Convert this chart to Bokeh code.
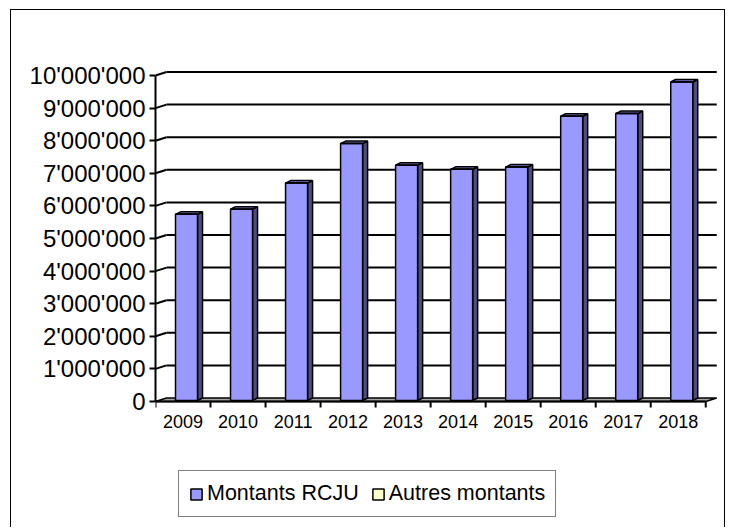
from bokeh.plotting import figure
from bokeh.models import Range1d, FixedTicker, Legend, LegendItem
from bokeh.core.properties import value
from bokeh.embed import file_html
from bokeh.resources import INLINE

# ---- data ----
years = ["2009", "2010", "2011", "2012", "2013", "2014", "2015", "2016", "2017", "2018"]
montants_rcju = [5710000, 5870000, 6670000, 7880000, 7220000, 7090000, 7160000, 8720000, 8800000, 9770000]
autres_montants = [0, 0, 0, 0, 0, 0, 0, 0, 0, 0]
y_ticks = [0, 1000000, 2000000, 3000000, 4000000, 5000000, 6000000, 7000000, 8000000, 9000000, 10000000]
y_tick_labels = ["0", "1'000'000", "2'000'000", "3'000'000", "4'000'000", "5'000'000",
                 "6'000'000", "7'000'000", "8'000'000", "9'000'000", "10'000'000"]

# ---- styling constants (pixel geometry of the pseudo-3D look) ----
PX_PER_CAT = 55.0
PX_PER_UNIT_Y = 32.6 / 1e6
def dx(px):
    return px / PX_PER_CAT
def dy(px):
    return px / PX_PER_UNIT_Y

WALL_DX, WALL_DY = dx(11), dy(3.5)
BAR_SHIFT, BAR_BASE = dx(3.5), dy(1.0)
BAR_HALF = dx(11)
SIDE_DX, SIDE_DY = dx(5), dy(2.5)

FRONT = "#9999FF"
SIDE = "#4D4D80"
TOP = "#7A7ACC"

n = len(years)
H = 518
TOP_PX = 55
ZERO_PX = 391
y_start = -dy(H - ZERO_PX)
y_end = dy(ZERO_PX - TOP_PX)

p = figure(width=715, height=H, output_backend="svg", toolbar_location=None,
           x_range=Range1d(0, 10.25), y_range=Range1d(y_start, y_end),
           min_border_left=144, min_border_right=7, min_border_top=TOP_PX, min_border_bottom=0)
p.styles = {"border-left": "1px solid black", "border-top": "1px solid black",
            "border-right": "1px solid black", "margin-left": "10px", "margin-top": "9px"}
p.outline_line_color = None
p.xgrid.visible = False
p.ygrid.visible = False
p.xaxis.visible = False
p.background_fill_color = "white"
p.border_fill_color = "white"

# back-wall gridlines with diagonal connectors
gv = y_ticks[1:]
p.segment(x0=[0] * len(gv), y0=gv, x1=[WALL_DX] * len(gv), y1=[v + WALL_DY for v in gv],
          line_color="black", line_width=2)
p.segment(x0=[WALL_DX] * len(gv), y0=[v + WALL_DY for v in gv],
          x1=[n + WALL_DX] * len(gv), y1=[v + WALL_DY for v in gv],
          line_color="black", line_width=2)

# floor
p.patch(x=[0, n, n + WALL_DX, WALL_DX], y=[0, 0, WALL_DY, WALL_DY],
        fill_color="#A6A6A6", line_color="black", line_width=1.5)

# category axis (front edge): line, tick marks between categories, year labels
p.segment(x0=[0], y0=[0], x1=[n], y1=[0], line_color="black", line_width=2)
bounds = list(range(n + 1))
p.segment(x0=bounds, y0=[0] * len(bounds), x1=bounds, y1=[-dy(6)] * len(bounds),
          line_color="black", line_width=2)
centers = [i + 0.5 for i in range(n)]
p.text(x=centers, y=[-dy(19.5)] * n, text=years, text_align="center", text_baseline="middle",
       text_font=value("Liberation Sans"), text_font_size="18px", text_color="black")

# bars
lefts = [i + 0.5 + BAR_SHIFT - BAR_HALF for i in range(n)]
rights = [i + 0.5 + BAR_SHIFT + BAR_HALF for i in range(n)]
tops = [v + BAR_BASE for v in montants_rcju]
side_xs = [[r, r + SIDE_DX, r + SIDE_DX, r] for r in rights]
side_ys = [[BAR_BASE, BAR_BASE + SIDE_DY, t + SIDE_DY, t] for t in tops]
top_xs = [[l, r, r + SIDE_DX, l + SIDE_DX] for l, r in zip(lefts, rights)]
top_ys = [[t, t, t + SIDE_DY, t + SIDE_DY] for t in tops]
p.patches(xs=side_xs, ys=side_ys, fill_color=SIDE, line_color="black", line_width=1.5)
p.patches(xs=top_xs, ys=top_ys, fill_color=TOP, line_color="black", line_width=1.5)
r1 = p.quad(left=lefts, right=rights, bottom=[BAR_BASE] * n, top=tops,
            fill_color=FRONT, line_color="black", line_width=1.5)
r2 = p.quad(left=lefts, right=rights, bottom=tops,
            top=[t + a for t, a in zip(tops, autres_montants)],
            fill_color="#FFFFCC", line_color="black", line_width=1.5)

# value axis
p.yaxis.ticker = FixedTicker(ticks=y_ticks)
p.yaxis.major_label_overrides = {t: l for t, l in zip(y_ticks, y_tick_labels)}
p.yaxis.bounds = (0, 10000000)
p.yaxis.axis_line_width = 2
p.yaxis.major_tick_line_width = 2
p.yaxis.major_tick_out = 6
p.yaxis.major_tick_in = 0
p.yaxis.minor_tick_line_color = None
p.yaxis.major_label_standoff = 4
p.yaxis.major_label_text_font = "Liberation Sans"
p.yaxis.major_label_text_font_size = "24px"
p.yaxis.major_label_text_color = "black"

legend = Legend(items=[LegendItem(label="Montants RCJU", renderers=[r1]),
                       LegendItem(label="Autres montants", renderers=[r2])],
                location=(23, 11), orientation="horizontal",
                label_text_font="Liberation Sans", label_text_font_size="21.5px",
                label_text_color="black",
                glyph_width=14, glyph_height=14, label_standoff=4, spacing=12,
                padding=10, margin=0, label_height=22,
                border_line_color="black", border_line_width=1.5,
                background_fill_color="white", background_fill_alpha=1)
p.add_layout(legend)

open("out.html", "w").write(file_html(p, INLINE))
